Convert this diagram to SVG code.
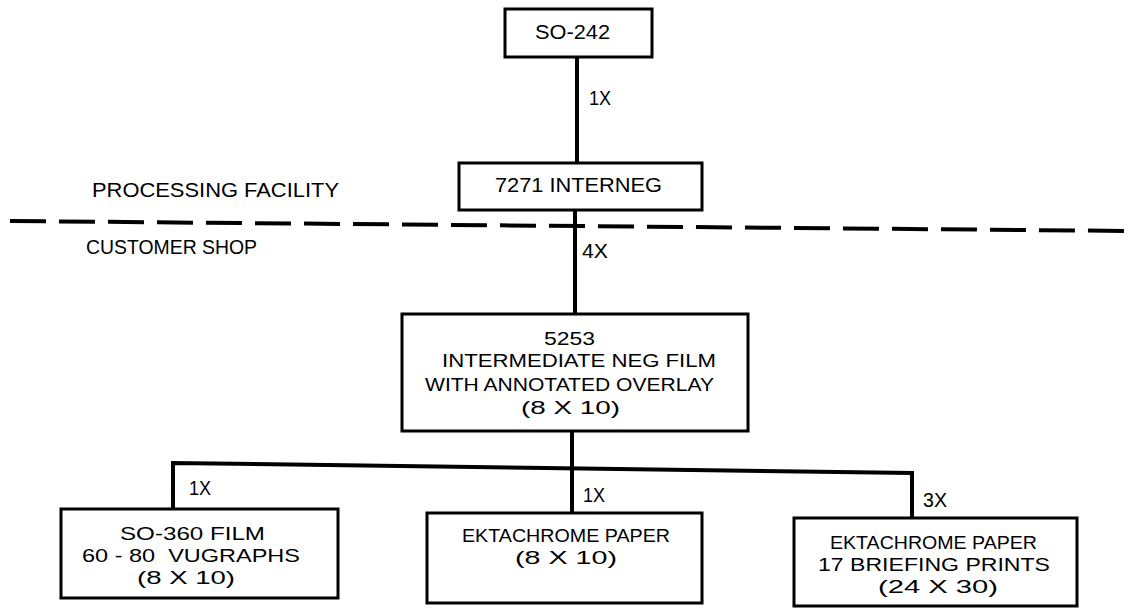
<svg xmlns="http://www.w3.org/2000/svg" width="1135" height="609" viewBox="0 0 1135 609">
<style>
.box{fill:#fff;stroke:#000;stroke-width:3}
.con{fill:none;stroke:#000;stroke-width:4}
.dash{fill:none;stroke:#000;stroke-width:4;stroke-dasharray:36 13}
text{font-family:"Liberation Sans",Arial,sans-serif;font-size:21px;fill:#000}
.s{font-size:19px}
</style>
<rect width="1135" height="609" fill="#fff"/>
<g id="connectors">
<line class="con" x1="577" y1="57" x2="577" y2="163"/>
<line class="con" x1="575" y1="210" x2="575" y2="314"/>
<line class="con" x1="572" y1="431" x2="572" y2="513"/>
<polyline class="con" points="173,510 173,463 912,473 912,518"/>
<text x="589" y="105" textLength="22" lengthAdjust="spacingAndGlyphs">1X</text>
<text x="582" y="258" textLength="26" lengthAdjust="spacingAndGlyphs">4X</text>
<text x="189" y="495" textLength="22" lengthAdjust="spacingAndGlyphs">1X</text>
<text x="583" y="502" textLength="22" lengthAdjust="spacingAndGlyphs">1X</text>
<text x="923" y="507" textLength="24" lengthAdjust="spacingAndGlyphs">3X</text>
</g>
<g id="divider">
<line class="dash" x1="10" y1="221" x2="1135" y2="231"/>
<text x="92" y="197" textLength="247" lengthAdjust="spacingAndGlyphs">PROCESSING FACILITY</text>
<text x="86" y="254" textLength="171" lengthAdjust="spacingAndGlyphs">CUSTOMER SHOP</text>
</g>
<g id="so242">
<rect class="box" x="505" y="9" width="147" height="48"/>
<text x="535" y="39" textLength="75" lengthAdjust="spacingAndGlyphs">SO-242</text>
</g>
<g id="interneg">
<rect class="box" x="459" y="163" width="243" height="47"/>
<text x="495" y="192" textLength="167" lengthAdjust="spacingAndGlyphs">7271 INTERNEG</text>
</g>
<g id="n5253">
<rect class="box" x="402" y="314" width="346" height="117"/>
<text class="s" x="544" y="345" textLength="51" lengthAdjust="spacingAndGlyphs">5253</text>
<text class="s" x="442" y="367" textLength="274" lengthAdjust="spacingAndGlyphs">INTERMEDIATE NEG FILM</text>
<text class="s" x="425" y="391" textLength="289" lengthAdjust="spacingAndGlyphs">WITH ANNOTATED OVERLAY</text>
<text class="s" x="521" y="414" textLength="99" lengthAdjust="spacingAndGlyphs">(8 X 10)</text>
</g>
<g id="so360">
<rect class="box" x="61" y="509" width="277" height="89"/>
<text class="s" x="120" y="540" textLength="145" lengthAdjust="spacingAndGlyphs">SO-360 FILM</text>
<text class="s" x="82" y="562" textLength="218" lengthAdjust="spacingAndGlyphs" xml:space="preserve">60 - 80  VUGRAPHS</text>
<text class="s" x="137" y="584" textLength="98" lengthAdjust="spacingAndGlyphs">(8 X 10)</text>
</g>
<g id="ekta810">
<rect class="box" x="427" y="513" width="275" height="90"/>
<text class="s" x="462" y="542" textLength="208" lengthAdjust="spacingAndGlyphs">EKTACHROME PAPER</text>
<text class="s" x="515" y="564" textLength="102" lengthAdjust="spacingAndGlyphs">(8 X 10)</text>
</g>
<g id="ekta2430">
<rect class="box" x="794" y="518" width="283" height="88"/>
<text class="s" x="830" y="549" textLength="207" lengthAdjust="spacingAndGlyphs">EKTACHROME PAPER</text>
<text class="s" x="818" y="571" textLength="232" lengthAdjust="spacingAndGlyphs">17 BRIEFING PRINTS</text>
<text class="s" x="878" y="593" textLength="120" lengthAdjust="spacingAndGlyphs">(24 X 30)</text>
</g>
</svg>
